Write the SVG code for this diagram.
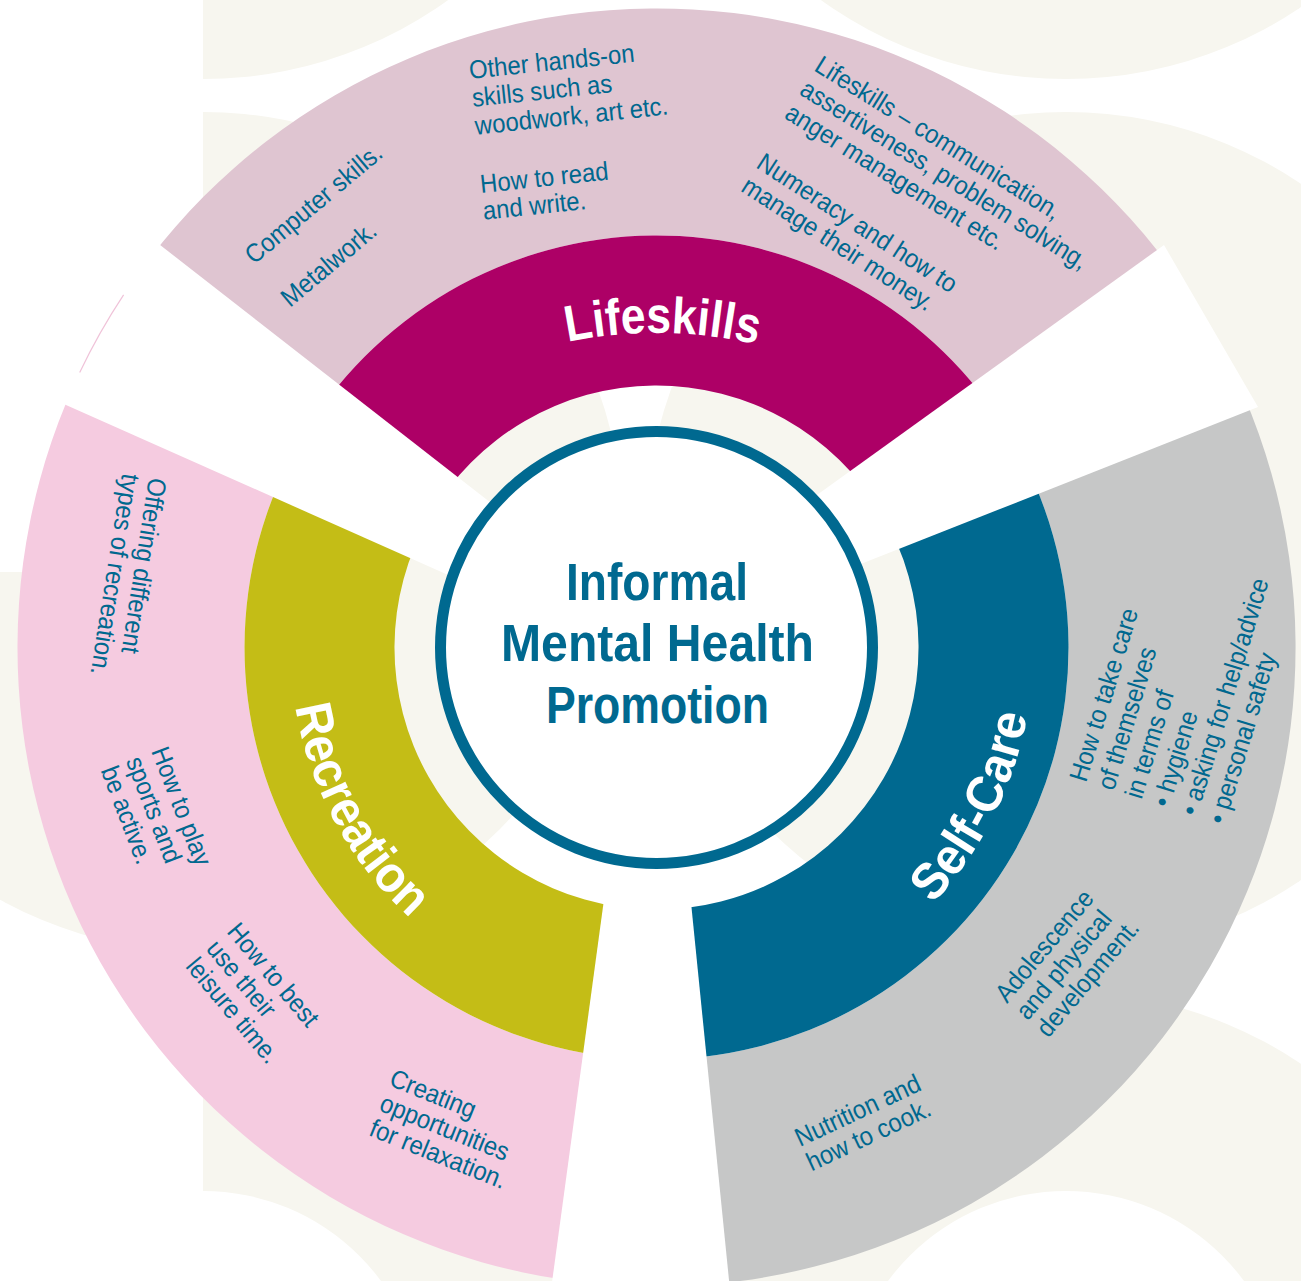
<svg xmlns="http://www.w3.org/2000/svg" width="1301" height="1281" viewBox="0 0 1301 1281">
<style>
.bg{fill:#f7f6ef}
.wh{fill:#ffffff}
.lbl{font-family:"Liberation Sans",Arial,sans-serif;font-size:26px;fill:#00688f}
.hdr{font-family:"Liberation Sans",Arial,sans-serif;font-size:51px;font-weight:bold;fill:#ffffff}
.ctr{font-family:"Liberation Sans",Arial,sans-serif;font-size:51px;font-weight:bold;fill:#006990;text-anchor:middle}
</style>
<defs>
<path id="lsArc" d="M243,622.5 A440,440 0 0 1 1070,622.5"/>
<path id="recArc" d="M316,513.4 A366,366 0 0 0 583.5,1006.1"/>
<path id="scArc" d="M743.9,1014.2 A377,377 0 0 0 1002.5,497.8"/>
</defs>
<g id="background">
<rect class="wh" x="0" y="0" width="1301" height="1281"/>
<circle class="bg" cx="203" cy="-341" r="420"/>
<circle class="bg" cx="1066" cy="-341" r="420"/>
<circle class="bg" cx="203" cy="532" r="420"/>
<circle class="bg" cx="1066" cy="532" r="420"/>
<circle class="bg" cx="203" cy="1412" r="420"/>
<circle class="bg" cx="1066" cy="1412" r="420"/>
<circle class="wh" cx="203" cy="1412" r="221"/>
<circle class="wh" cx="1066" cy="1412" r="221"/>
<rect class="wh" x="0" y="0" width="203" height="572"/>
<rect class="wh" x="0" y="952" width="203" height="329"/>
</g>
<g id="lifeskills">
<path fill="#dfc5d1" d="M103.1,328 A639,639 0 0 1 1204.3,318.4 L1009.7,435.3 A412,412 0 0 0 299.7,441.5 Z"/>
<path fill="#ad0066" d="M299.7,441.5 A412,412 0 0 1 1009.7,435.3 L881.1,512.6 A262,262 0 0 0 429.6,516.5 Z"/>
<text class="hdr"><textPath href="#lsArc" startOffset="50.55%" text-anchor="middle" textLength="191" lengthAdjust="spacingAndGlyphs">Lifeskills</textPath></text>
<text class="lbl" transform="translate(254,265) rotate(-40) scale(0.92,1)"><tspan x="0" y="0">Computer skills.</tspan><tspan x="0" y="56">Metalwork.</tspan></text>
<text class="lbl" transform="translate(470,79) rotate(-6) scale(0.92,1)"><tspan x="0" y="0">Other hands-on</tspan><tspan x="0" y="28">skills such as</tspan><tspan x="0" y="56">woodwork, art etc.</tspan></text>
<text class="lbl" transform="translate(481,193) rotate(-6) scale(0.92,1)"><tspan x="0" y="0">How to read</tspan><tspan x="0" y="27">and write.</tspan></text>
<text class="lbl" transform="translate(813,70) rotate(32) scale(0.92,1)"><tspan x="0" y="0">Lifeskills – communication,</tspan><tspan x="0" y="28">assertiveness, problem solving,</tspan><tspan x="0" y="56">anger management etc.</tspan></text>
<text class="lbl" transform="translate(755,167) rotate(33) scale(0.92,1)"><tspan x="0" y="0">Numeracy and how to</tspan><tspan x="0" y="28">manage their money.</tspan></text>
</g>
<g id="self-care">
<path fill="#c6c7c7" d="M1204.3,318.4 A639,639 0 0 1 645.35,1286.4 L649.3,1059.4 A412,412 0 0 0 1009.7,435.3 Z"/>
<path fill="#006990" d="M1009.7,435.3 A412,412 0 0 1 649.3,1059.4 L651.9,909.5 A262,262 0 0 0 881.1,512.6 Z"/>
<text class="hdr"><textPath href="#scArc" startOffset="50%" text-anchor="middle" textLength="214" lengthAdjust="spacingAndGlyphs">Self-Care</textPath></text>
<text class="lbl" transform="translate(1086,783) rotate(-73) scale(0.92,1)"><tspan x="0" y="0">How to take care</tspan><tspan x="0" y="29">of themselves</tspan><tspan x="0" y="58">in terms of</tspan><tspan x="0" y="87">• hygiene</tspan><tspan x="0" y="116">• asking for help/advice</tspan><tspan x="0" y="145">• personal safety</tspan></text>
<text class="lbl" transform="translate(1007,1004) rotate(-50) scale(0.92,1)"><tspan x="0" y="0">Adolescence</tspan><tspan x="0" y="27">and physical</tspan><tspan x="0" y="54">development.</tspan></text>
<text class="lbl" transform="translate(800,1147) rotate(-25) scale(0.92,1)"><tspan x="0" y="0">Nutrition and</tspan><tspan x="0" y="27">how to cook.</tspan></text>
</g>
<g id="recreation">
<path fill="#f5cbe0" d="M645.35,1286.4 A639,639 0 0 1 103.1,328 L299.7,441.5 A412,412 0 0 0 649.3,1059.4 Z"/>
<path fill="#c4bd16" d="M649.3,1059.4 A412,412 0 0 1 299.7,441.5 L429.6,516.5 A262,262 0 0 0 651.9,909.5 Z"/>
<text class="hdr"><textPath href="#recArc" startOffset="50%" text-anchor="middle" textLength="245" lengthAdjust="spacingAndGlyphs">Recreation</textPath></text>
<text class="lbl" transform="translate(149,477) rotate(99) scale(0.92,1)"><tspan x="0" y="0">Offering different</tspan><tspan x="0" y="27">types of recreation.</tspan></text>
<text class="lbl" transform="translate(151,751) rotate(69) scale(0.92,1)"><tspan x="0" y="0">How to play</tspan><tspan x="0" y="27">sports and</tspan><tspan x="0" y="54">be active.</tspan></text>
<text class="lbl" transform="translate(226,932) rotate(50) scale(0.92,1)"><tspan x="0" y="0">How to best</tspan><tspan x="0" y="27">use their</tspan><tspan x="0" y="54">leisure time.</tspan></text>
<text class="lbl" transform="translate(388,1085) rotate(22) scale(0.92,1)"><tspan x="0" y="0">Creating</tspan><tspan x="0" y="27">opportunities</tspan><tspan x="0" y="54">for relaxation.</tspan></text>
</g>
<g id="connectors">
<polygon class="wh" points="153.7,240 577,570 548.4,619.6 57.6,401.2"/>
<polygon class="wh" points="1164,245 1258,407 720.5,619.5 697.5,581"/>
<polygon class="wh" points="617.5,800 680.7,800 731,1300 549.6,1300"/>
<path d="M123.6,294.8 A639,639 0 0 0 79.7,372.4" fill="none" stroke="#f0c3d9" stroke-width="1.2"/>
</g>
<g id="center">
<circle cx="656.5" cy="647.5" r="216" fill="#ffffff" stroke="#006990" stroke-width="11"/>
<text class="ctr" x="657" y="600" textLength="182" lengthAdjust="spacingAndGlyphs">Informal</text>
<text class="ctr" x="657.5" y="661" textLength="313" lengthAdjust="spacingAndGlyphs">Mental Health</text>
<text class="ctr" x="657.5" y="723" textLength="223" lengthAdjust="spacingAndGlyphs">Promotion</text>
</g>
</svg>
